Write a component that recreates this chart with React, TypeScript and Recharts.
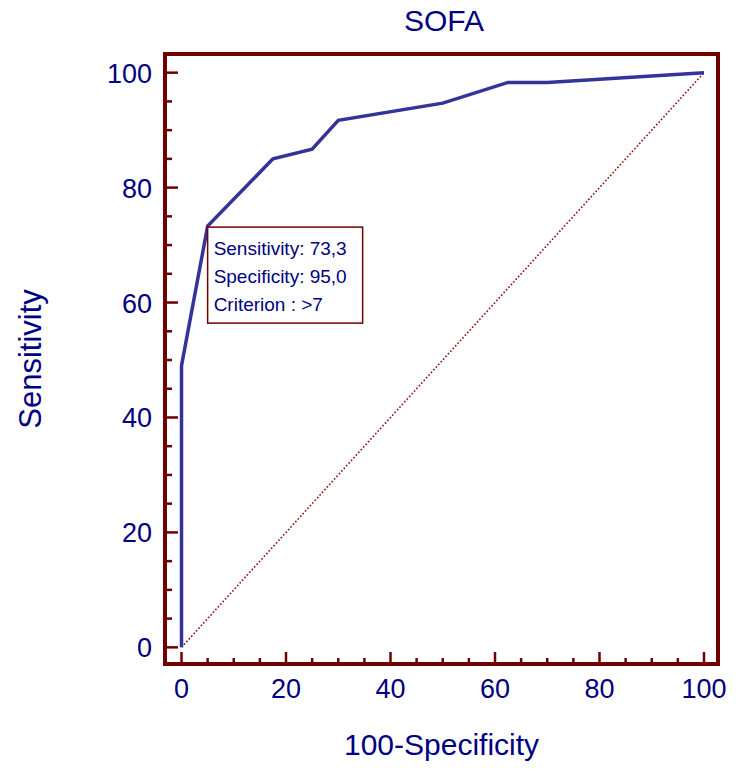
import React from 'react'
import {
  ComposedChart,
  Line,
  XAxis,
  YAxis,
  ReferenceArea,
  ReferenceDot,
} from 'recharts'

// ROC curve points (100-Specificity, Sensitivity)
const FPR = [0, 0, 5, 17.5, 25, 30, 50, 62.5, 70, 100]
const TPR = [0, 49, 73.3, 85, 86.7, 91.7, 94.7, 98.3, 98.3, 100]

// reference diagonal
const DIAG_X = [0, 100]
const DIAG_Y = [0, 100]

// axis ticks (minor every 5, labelled every 20)
const TICKS = [0, 5, 10, 15, 20, 25, 30, 35, 40, 45, 50, 55, 60, 65, 70, 75, 80, 85, 90, 95, 100]
const X_DOMAIN = [-3.16, 102.68]
const Y_DOMAIN = [-2.9, 103.25]

// criterion marker
const CRIT_X = 5
const CRIT_Y = 73.3
const CRIT_LINES = ['Sensitivity: 73,3', 'Specificity: 95,0', 'Criterion : >7']

const NAVY = '#000080'
const FRAME = '#6e0000'
const CURVE = '#333399'
const FONT = '"Liberation Sans", Arial, sans-serif'

const rocData = FPR.map((x, i) => ({ x, roc: TPR[i] }))
const diagData = DIAG_X.map((x, i) => ({ x, diag: DIAG_Y[i] }))

const XTick = ({ x, y, payload }: any) => {
  const major = payload.value % 20 === 0
  return (
    <g>
      <line x1={x} x2={x} y1={y} y2={y - (major ? 12 : 6)} stroke={FRAME} strokeWidth={2.5} />
      {major && (
        <text x={x} y={y + 34} textAnchor="middle" fill={NAVY} fontSize={27} fontFamily={FONT}>
          {payload.value}
        </text>
      )}
    </g>
  )
}

const YTick = ({ x, y, payload }: any) => {
  const major = payload.value % 20 === 0
  return (
    <g>
      <line x1={x} x2={x + (major ? 13 : 7)} y1={y} y2={y} stroke={FRAME} strokeWidth={2.5} />
      {major && (
        <text x={x - 13} y={y + 10} textAnchor="end" fill={NAVY} fontSize={27} fontFamily={FONT}>
          {payload.value}
        </text>
      )}
    </g>
  )
}

const CriterionBox = ({ cx, cy }: any) => (
  <g>
    <rect x={cx} y={cy + 1} width={155} height={96} fill="#fff" stroke={FRAME} strokeWidth={1.5} />
    {CRIT_LINES.map((t, i) => (
      <text key={t} x={cx + 6} y={cy + 29 + i * 28} fill={NAVY} fontSize={19} fontFamily={FONT}>
        {t}
      </text>
    ))}
  </g>
)

export default function App() {
  return (
    <div style={{ position: 'absolute', left: 0, top: 0, width: 736, height: 771, background: '#fff' }}>
      <div
        style={{
          position: 'absolute',
          left: 0,
          width: 888,
          top: 4,
          textAlign: 'center',
          color: NAVY,
          fontFamily: FONT,
          fontSize: 30,
        }}
      >
        SOFA
      </div>
      <ComposedChart width={736} height={771} margin={{ top: 54, right: 18, bottom: 0, left: 0 }}>
        <XAxis
          dataKey="x"
          type="number"
          domain={X_DOMAIN}
          ticks={TICKS}
          interval={0}
          allowDataOverflow
          height={107}
          axisLine={false}
          tickLine={false}
          tickSize={0}
          tickMargin={0}
          tick={<XTick />}
          label={{
            value: '100-Specificity',
            position: 'insideBottom',
            offset: 16,
            fill: NAVY,
            fontSize: 30,
            fontFamily: FONT,
          }}
        />
        <YAxis
          type="number"
          domain={Y_DOMAIN}
          ticks={TICKS}
          interval={0}
          allowDataOverflow
          width={165}
          axisLine={false}
          tickLine={false}
          tickSize={0}
          tickMargin={0}
          tick={<YTick />}
          label={{
            value: 'Sensitivity',
            angle: -90,
            position: 'insideLeft',
            offset: 30,
            fill: NAVY,
            fontSize: 31,
            fontFamily: FONT,
            style: { textAnchor: 'middle' },
          }}
        />
        <ReferenceArea
          x1={X_DOMAIN[0]}
          x2={X_DOMAIN[1]}
          y1={Y_DOMAIN[0]}
          y2={Y_DOMAIN[1]}
          fill="none"
          stroke={FRAME}
          strokeWidth={4}
        />
        <Line
          data={diagData}
          dataKey="diag"
          stroke="#8b1010"
          strokeWidth={1.6}
          strokeDasharray="1.6 2"
          dot={false}
          isAnimationActive={false}
        />
        <Line
          data={rocData}
          dataKey="roc"
          stroke={CURVE}
          strokeWidth={3.5}
          dot={false}
          isAnimationActive={false}
        />
        <ReferenceDot x={CRIT_X} y={CRIT_Y} shape={<CriterionBox />} />
      </ComposedChart>
    </div>
  )
}
